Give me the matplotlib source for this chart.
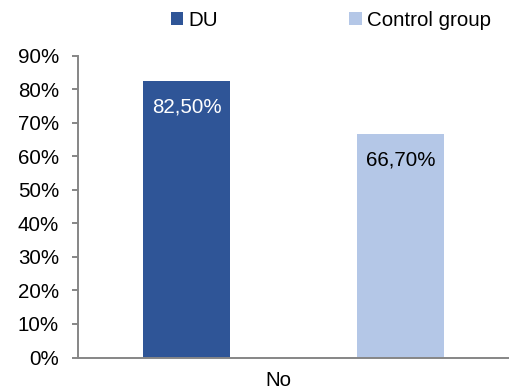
import matplotlib.pyplot as plt
from matplotlib.ticker import FuncFormatter

# data
groups = ["DU", "Control group"]
values = [82.5, 66.7]
category = "No"
yticks = [0, 10, 20, 30, 40, 50, 60, 70, 80, 90]

colors = ["#2F5597", "#B4C7E7"]
label_colors = ["white", "black"]

plt.rcParams['font.family'] = ['Liberation Sans', 'DejaVu Sans']
fs = 14.8

fig = plt.figure(figsize=(5.09, 3.90), dpi=100)
ax = fig.add_axes([78 / 509, 1 - 357.5 / 390, 431 / 509, (357.5 - 55.7) / 390])

# bar offsets within the single category
offsets = [-0.248, 0.248]
width = 0.202

handles = []
for i in range(len(groups)):
    b = ax.bar(offsets[i], values[i], width, color=colors[i], label=groups[i])
    handles.append(b)
    txt = ("%.2f%%" % values[i]).replace(".", ",")
    ax.annotate(txt, (offsets[i], values[i]), xytext=(0, -18.5),
                textcoords="offset points", ha="center", va="center",
                color=label_colors[i], fontsize=fs)

ax.set_xlim(-0.5, 0.5)
ax.set_ylim(0, 90)
ax.set_yticks(yticks)
ax.yaxis.set_major_formatter(FuncFormatter(lambda v, p: "%d%%" % v))
ax.set_xticks([-0.034])
ax.set_xticklabels([category])

for s in ["top", "right"]:
    ax.spines[s].set_visible(False)
for s in ["left", "bottom"]:
    ax.spines[s].set_color("#868686")
    ax.spines[s].set_linewidth(1.4)

ax.tick_params(axis="y", length=4.3, width=1.4, color="#868686",
               labelsize=fs, pad=9.4)
ax.tick_params(axis="x", length=0, labelsize=fs, pad=10)

fig.legend(handles=handles, loc="center", bbox_to_anchor=(0.650, 1 - 20 / 390),
           ncol=2, frameon=False, fontsize=fs, handlelength=0.6,
           handleheight=0.6, handletextpad=0.25, columnspacing=6.4,
           borderpad=0, borderaxespad=0)

fig.savefig("out.png", dpi=100)
